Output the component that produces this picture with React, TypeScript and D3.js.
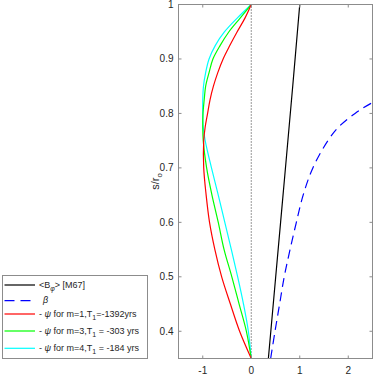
import * as d3 from "d3";
import React, { useRef, useEffect } from "react";

// radial positions s/r_o sampled for the psi curves
const sGrid = [0.35, 0.40, 0.45, 0.50, 0.55, 0.60, 0.65, 0.70, 0.75, 0.775, 0.80, 0.825, 0.85, 0.875, 0.90, 0.925, 0.95, 0.975, 1.0];
const psiM1 = [0, -0.24, -0.43, -0.61, -0.75, -0.86, -0.93, -0.98, -0.98, -0.95, -0.90, -0.85, -0.78, -0.69, -0.58, -0.44, -0.29, -0.13, 0];
const psiM3 = [0, -0.10, -0.25, -0.40, -0.56, -0.68, -0.81, -0.92, -0.99, -1.0, -0.995, -0.97, -0.94, -0.87, -0.79, -0.64, -0.46, -0.23, 0];
const psiM4 = [0, -0.06, -0.16, -0.28, -0.41, -0.545, -0.68, -0.82, -0.95, -0.99, -1.0, -1.0, -0.985, -0.94, -0.87, -0.74, -0.55, -0.29, 0];

// <B_phi> [M67]
const bphiS = [0.35, 0.6, 0.85, 1.0];
const bphiV = [0.353, 0.605, 0.855, 1.0];

// beta
const betaS = [0.35, 0.40, 0.45, 0.50, 0.55, 0.60, 0.65, 0.70, 0.75, 0.775, 0.80, 0.818, 0.84];
const betaV = [0.40, 0.49, 0.585, 0.68, 0.80, 0.93, 1.07, 1.27, 1.58, 1.80, 2.14, 2.46, 2.95];

const xTicks = [-1, 0, 1, 2];
const yTicks = [0.4, 0.5, 0.6, 0.7, 0.8, 0.9, 1];

const legendItems = [
    { key: "bphi", color: "#000000", dash: null },
    { key: "beta", color: "#0000ff", dash: "10,6" },
    { key: "m1", color: "#ff0000", dash: null, m: "1", t: "=-1392yrs" },
    { key: "m3", color: "#00ff00", dash: null, m: "3", t: " = -303 yrs" },
    { key: "m4", color: "#00ffff", dash: null, m: "4", t: " = -184 yrs" },
];
const legendRows = [285, 300.7, 314, 331, 348.3];

const App = () => {
    const ref = useRef<HTMLDivElement>(null);

    useEffect(() => {
        const width = 374;
        const height = 375;
        const left = 178.5, right = 372.5, top = 4.5, bottom = 358.5;
        const axisColor = "#8c8c8c";
        const textColor = "#262626";
        const font = "'Liberation Sans', Arial, sans-serif";

        const x = d3.scaleLinear().domain([-1.5, 2.5]).range([left, right]);
        const y = d3.scaleLinear().domain([0.35, 1]).range([bottom, top]);

        const svg = d3.create("svg")
            .attr("width", width)
            .attr("height", height)
            .attr("viewBox", `0 0 ${width} ${height}`)
            .style("position", "absolute")
            .style("left", "0px")
            .style("top", "0px")
            .style("background", "#fff");

        svg.append("defs").append("clipPath").attr("id", "plotclip")
            .append("rect")
            .attr("x", left).attr("y", top)
            .attr("width", right - left).attr("height", bottom - top);

        // dotted zero line
        svg.append("line")
            .attr("x1", x(0)).attr("x2", x(0))
            .attr("y1", y(0.35)).attr("y2", y(1))
            .attr("stroke", "#333")
            .attr("stroke-width", 1)
            .attr("stroke-dasharray", "1,2");

        const line = d3.line<[number, number]>()
            .x(d => x(d[1]))
            .y(d => y(d[0]))
            .curve(d3.curveCatmullRom);

        const series = [
            { s: sGrid, v: psiM4, color: "#00ffff" },
            { s: sGrid, v: psiM3, color: "#00ff00" },
            { s: sGrid, v: psiM1, color: "#ff0000" },
            { s: bphiS, v: bphiV, color: "#000000" },
            { s: betaS, v: betaV, color: "#0000ff", dash: "9,5.5" },
        ];

        const g = svg.append("g").attr("clip-path", "url(#plotclip)");
        series.forEach(sr => {
            g.append("path")
                .datum(sr.s.map((s, i) => [s, sr.v[i]] as [number, number]))
                .attr("fill", "none")
                .attr("stroke", sr.color)
                .attr("stroke-width", 1.2)
                .attr("stroke-dasharray", sr.dash || null)
                .attr("d", line);
        });

        // box
        svg.append("rect")
            .attr("x", left).attr("y", top)
            .attr("width", right - left).attr("height", bottom - top)
            .attr("fill", "none")
            .attr("stroke", axisColor);

        // ticks, inward on all four sides
        const tl = 3;
        xTicks.forEach(t => {
            svg.append("line").attr("x1", x(t)).attr("x2", x(t)).attr("y1", bottom).attr("y2", bottom - tl).attr("stroke", axisColor);
            svg.append("line").attr("x1", x(t)).attr("x2", x(t)).attr("y1", top).attr("y2", top + tl).attr("stroke", axisColor);
            svg.append("text")
                .attr("x", x(t)).attr("y", bottom + 15)
                .attr("text-anchor", "middle")
                .attr("font-family", font).attr("font-size", 10)
                .attr("fill", textColor)
                .text(String(t));
        });
        yTicks.forEach(t => {
            svg.append("line").attr("x1", left).attr("x2", left + tl).attr("y1", y(t)).attr("y2", y(t)).attr("stroke", axisColor);
            svg.append("line").attr("x1", right).attr("x2", right - tl).attr("y1", y(t)).attr("y2", y(t)).attr("stroke", axisColor);
            svg.append("text")
                .attr("x", left - 5).attr("y", y(t))
                .attr("dy", "0.35em")
                .attr("text-anchor", "end")
                .attr("font-family", font).attr("font-size", 10)
                .attr("fill", textColor)
                .text(String(t));
        });

        // y label s/r_o
        const yl = svg.append("text")
            .attr("transform", `translate(159,${(top + bottom) / 2}) rotate(-90)`)
            .attr("text-anchor", "middle")
            .attr("font-family", font).attr("font-size", 11)
            .attr("fill", textColor);
        yl.append("tspan").text("s/r");
        yl.append("tspan").attr("dy", 3).attr("font-size", 8).text("o");

        // legend
        const lg = svg.append("g");
        lg.append("rect")
            .attr("x", 2.5).attr("y", 275.5)
            .attr("width", 145).attr("height", 83)
            .attr("fill", "#fff")
            .attr("stroke", axisColor);

        legendItems.forEach((it, i) => {
            const ry = legendRows[i];
            lg.append("line")
                .attr("x1", 4.5).attr("x2", 35)
                .attr("y1", ry).attr("y2", ry)
                .attr("stroke", it.color)
                .attr("stroke-width", 1.2)
                .attr("stroke-dasharray", it.dash || null);
            const tx = lg.append("text")
                .attr("x", 39).attr("y", ry)
                .attr("dy", "0.35em")
                .attr("font-family", font).attr("font-size", 9)
                .attr("fill", textColor);
            if (it.key === "bphi") {
                tx.append("tspan").text("<B");
                tx.append("tspan").attr("dy", 3).attr("font-size", 7).attr("font-style", "italic").text("φ");
                tx.append("tspan").attr("dy", -3).text("> [M67]");
            } else if (it.key === "beta") {
                tx.append("tspan").attr("dx", 4).attr("dy", 2).attr("font-style", "italic").text("β");
            } else {
                tx.append("tspan").text("- ");
                tx.append("tspan").attr("font-style", "italic").text("ψ");
                tx.append("tspan").text(` for m=${it.m},T`);
                tx.append("tspan").attr("dy", 3).attr("font-size", 7).text("1");
                tx.append("tspan").attr("dy", -3).text(it.t);
            }
        });

        if (ref.current) {
            ref.current.innerHTML = "";
            ref.current.appendChild(svg.node() as SVGSVGElement);
        }
    }, []);

    return <div ref={ref}></div>;
};

export default App;
